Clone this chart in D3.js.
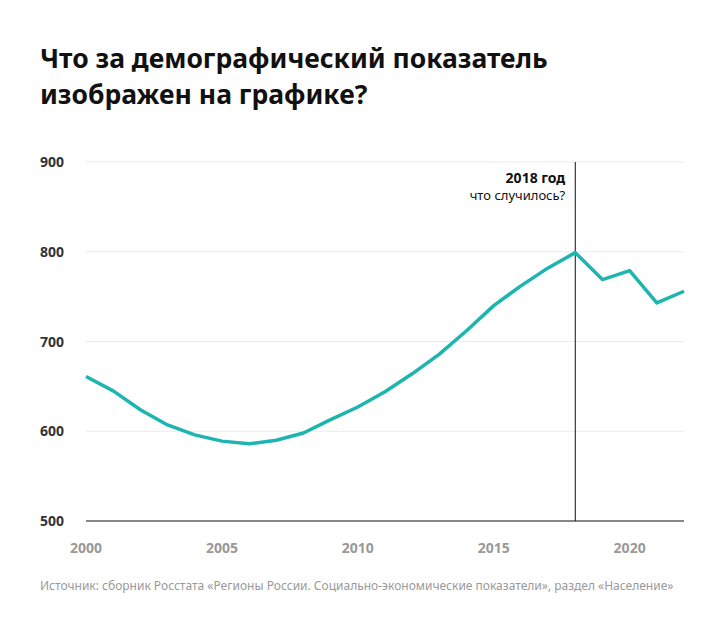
<!DOCTYPE html>
<html><head><meta charset="utf-8">
<script src="https://cdn.jsdelivr.net/npm/d3@7"></script>
<style>body{margin:0;background:#fff;font-family:"Noto Sans",sans-serif;}</style>
</head><body>
<svg id="chart" width="727" height="630"></svg>
<script>
var years = [2000,2001,2002,2003,2004,2005,2006,2007,2008,2009,2010,2011,2012,2013,2014,2015,2016,2017,2018,2019,2020,2021,2022];
var values = [661,645,624,607,596,589,586,590,598,613,627,644,664,686,712,740,762,782,799,769,779,743,756];
var yTicks = [500,600,700,800,900];
var xTicks = [2000,2005,2010,2015,2020];

var svg = d3.select("#chart");
var x = d3.scaleLinear().domain([2000,2022]).range([86,684]);
var y = d3.scaleLinear().domain([500,900]).range([521,162]);

svg.append("text").attr("x",40).attr("y",68).attr("font-size",26.5).attr("font-weight",700).attr("fill","#111")
   .text("Что за демографический показатель");
svg.append("text").attr("x",40).attr("y",104).attr("font-size",26.5).attr("font-weight",700).attr("fill","#111")
   .text("изображен на графике?");

svg.selectAll(".grid").data(yTicks.slice(1)).enter().append("line")
   .attr("x1",86).attr("x2",684).attr("y1",y).attr("y2",y).attr("stroke","#ebebeb");
svg.append("line").attr("x1",86).attr("x2",684).attr("y1",y(500)).attr("y2",y(500)).attr("stroke","#111");

svg.selectAll(".yl").data(yTicks).enter().append("text")
   .attr("x",40).attr("y",function(d){return y(d)+5;}).attr("font-size",14).attr("font-weight",700).attr("fill","#333")
   .text(function(d){return d;});
svg.selectAll(".xl").data(xTicks).enter().append("text")
   .attr("x",x).attr("y",553).attr("text-anchor","middle").attr("font-size",14).attr("font-weight",700).attr("fill","#999")
   .text(function(d){return d;});

svg.append("line").attr("x1",x(2018)).attr("x2",x(2018)).attr("y1",162).attr("y2",521).attr("stroke","#111");
svg.append("text").attr("x",x(2018)-10).attr("y",183).attr("text-anchor","end").attr("font-size",14).attr("font-weight",700).attr("fill","#111").text("2018 год");
svg.append("text").attr("x",x(2018)-10).attr("y",200).attr("text-anchor","end").attr("font-size",13).attr("fill","#111").text("что случилось?");

svg.append("path").datum(values)
   .attr("fill","none").attr("stroke","#1db5b0").attr("stroke-width",3.5).attr("stroke-linejoin","round")
   .attr("d",d3.line().x(function(d,i){return x(years[i]);}).y(function(d){return y(d);}));

svg.append("text").attr("x",40).attr("y",590).attr("font-size",12).attr("fill","#999")
   .text("Источник: сборник Росстата «Регионы России. Социально-экономические показатели», раздел «Население»");
</script>
</body></html>
